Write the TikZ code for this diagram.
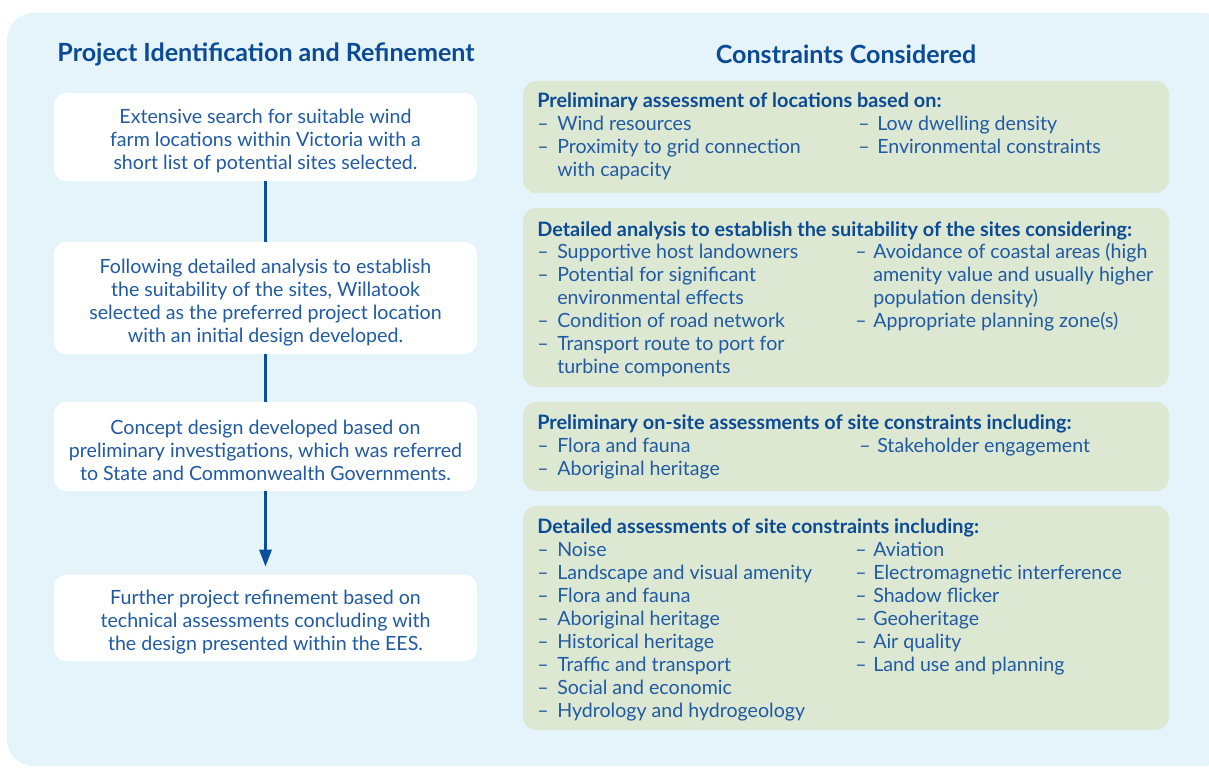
\documentclass[tikz,border=0pt]{standalone}
\usepackage{fontspec}
\setmainfont{Lato}
\usetikzlibrary{arrows.meta}
\definecolor{panel}{HTML}{E5F3FB}
\definecolor{greenbox}{HTML}{DDE8D3}
\definecolor{txt}{HTML}{1F5AA3}
\definecolor{head}{HTML}{0B4A94}
\definecolor{conn}{HTML}{0B4F9C}
\newcommand\bodyfont{\fontsize{14.7}{17.25}\selectfont}
\newcommand\tstrut{\rule{0pt}{17pt}}
\newcommand\myitem[5]{\node[itx] (#1-d) at (#2,#4) {–}; \node[itx] (#1) at (#3,#4) {#5};}
\newcommand\mycont[4]{\node[itx] (#1) at (#2,#3) {#4};}
\tikzset{
  headtxt/.style={font=\fontsize{18.8}{22}\selectfont\bfseries, text=head, inner sep=0pt},
  wbox/.style={fill=white, rounded corners=9pt, minimum width=317.25pt, align=center, text=txt, font=\bodyfont, inner sep=0pt},
  gbox/.style={fill=greenbox, rounded corners=10pt, minimum width=484.5pt, inner sep=0pt},
  ghead/.style={anchor=base west, font=\fontsize{14.9}{17.25}\selectfont\bfseries, text=head, inner sep=0pt},
  itx/.style={anchor=base west, font=\bodyfont, text=txt, inner sep=0pt},
  connline/.style={draw=conn, line width=2.25pt},
}
\begin{document}
\begin{tikzpicture}[x=0.75pt,y=-0.75pt]
\useasboundingbox (0,0) rectangle (1209,767);
\clip (0,0) rectangle (1209,767);
\fill[panel, rounded corners=20pt] (7,13) rectangle (1230,766);
% headings
\node[headtxt] (h1) at (266,54) {Project Identification and Refinement};
\node[headtxt] (h2) at (846,54) {Constraints Considered};
% left column
\node[wbox, minimum height=66pt] (b1) at (265.5,137) {\tstrut Extensive search for suitable wind\\farm locations within Victoria with a\\short list of potential sites selected.};
\node[wbox, minimum height=84pt] (b2) at (265.5,298) {\tstrut Following detailed analysis to establish\\the suitability of the sites, Willatook\\selected as the preferred project location\\with an initial design developed.};
\node[wbox, minimum height=66.75pt] (b3) at (265.5,446.5) {\tstrut Concept design developed based on\\preliminary investigations, which was referred\\to State and Commonwealth Governments.};
\node[wbox, minimum height=64.5pt] (b4) at (265.5,618) {\tstrut Further project refinement based on\\technical assessments concluding with\\the design presented within the EES.};
\draw[connline] (b1.south) -- (b2.north);
\draw[connline] (b2.south) -- (b3.north);
\draw[connline, -{Triangle[length=12.75pt,width=9pt]}, shorten >=6pt] (b3.south) -- (b4.north);
% right column boxes
\node[gbox, minimum height=84pt] (g1) at (846,137) {};
\node[gbox, minimum height=134.25pt] (g2) at (846,297.5) {};
\node[gbox, minimum height=66.75pt] (g3) at (846,446.5) {};
\node[gbox, minimum height=168pt] (g4) at (846,618) {};
% box 1
\node[ghead] (g1h) at (537,108) {Preliminary assessment of locations based on:};
\myitem{g1a}{537}{557}{130}{Wind resources}
\myitem{g1b}{537}{557}{153}{Proximity to grid connection}
\mycont{g1bc}{557}{176}{with capacity}
\myitem{g1c}{858}{877}{130}{Low dwelling density}
\myitem{g1e}{858}{877}{153}{Environmental constraints}
% box 2
\node[ghead] (g2h) at (537,236) {Detailed analysis to establish the suitability of the sites considering:};
\myitem{g2a}{537}{557}{258}{Supportive host landowners}
\myitem{g2b}{537}{557}{281}{Potential for significant}
\mycont{g2bc}{557}{304}{environmental effects}
\myitem{g2c}{537}{557}{327}{Condition of road network}
\myitem{g2d}{537}{557}{350}{Transport route to port for}
\mycont{g2dc}{557}{373}{turbine components}
\myitem{g2e}{855}{873}{258}{Avoidance of coastal areas (high}
\mycont{g2ec}{873}{281}{amenity value and usually higher}
\mycont{g2ecc}{873}{304}{population density)}
\myitem{g2f}{855}{873}{327}{Appropriate planning zone(s)}
% box 3
\node[ghead] (g3h) at (537,429) {Preliminary on-site assessments of site constraints including:};
\myitem{g3a}{537}{557}{452}{Flora and fauna}
\myitem{g3b}{537}{557}{475}{Aboriginal heritage}
\myitem{g3c}{859}{877}{452}{Stakeholder engagement}
% box 4
\node[ghead] (g4h) at (537,533) {Detailed assessments of site constraints including:};
\myitem{g4a}{537}{557}{556}{Noise}
\myitem{g4b}{537}{557}{579}{Landscape and visual amenity}
\myitem{g4c}{537}{557}{602}{Flora and fauna}
\myitem{g4d}{537}{557}{625}{Aboriginal heritage}
\myitem{g4e}{537}{557}{648}{Historical heritage}
\myitem{g4f}{537}{557}{671}{Traffic and transport}
\myitem{g4g}{537}{557}{694}{Social and economic}
\myitem{g4h}{537}{557}{717}{Hydrology and hydrogeology}
\myitem{g4i}{855}{873}{556}{Aviation}
\myitem{g4j}{855}{873}{579}{Electromagnetic interference}
\myitem{g4k}{855}{873}{602}{Shadow flicker}
\myitem{g4l}{855}{873}{625}{Geoheritage}
\myitem{g4m}{855}{873}{648}{Air quality}
\myitem{g4n}{855}{873}{671}{Land use and planning}
\end{tikzpicture}
\end{document}
